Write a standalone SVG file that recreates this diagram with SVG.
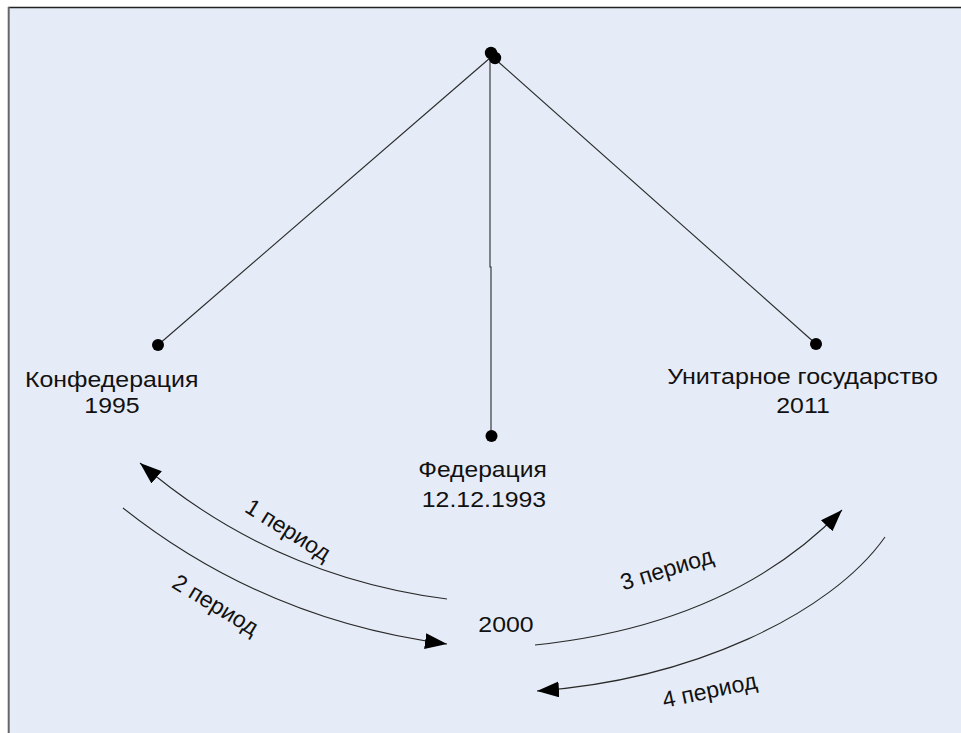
<svg xmlns="http://www.w3.org/2000/svg" width="961" height="733" viewBox="0 0 961 733">
<style>
.ln{fill:none;stroke:#2a2a2a;stroke-width:1.1}
.dot{fill:#000}
.t{font-family:"Liberation Sans",Arial,sans-serif;font-size:22px;fill:#111;text-anchor:middle}
.r{font-size:23px}
</style>
<defs>
<marker id="ah" markerUnits="userSpaceOnUse" markerWidth="24" markerHeight="18" refX="22" refY="8" orient="auto" viewBox="0 0 24 18">
<path d="M0,0 L22,8 L0,16 z" fill="#000"/>
</marker>
</defs>
<rect x="0" y="0" width="961" height="733" fill="#ffffff"/>
<rect x="8" y="7" width="953" height="726" fill="#e6ecf7"/>
<line x1="8" y1="7.5" x2="961" y2="7.5" stroke="#222" stroke-width="1.5"/>
<line x1="8.7" y1="7" x2="8.7" y2="733" stroke="#666" stroke-width="2"/>
<g id="connectors">
<line class="ln" x1="490" y1="58" x2="158" y2="345"/>
<line class="ln" x1="494" y1="58" x2="816" y2="344"/>
<polyline class="ln" points="490,58 490,267 491,267 491,436"/>
<path class="ln" d="M447,599 C340,585 235,545 140,463" marker-end="url(#ah)"/>
<path class="ln" d="M123,508 C195,565 300,625 447,644" marker-end="url(#ah)"/>
<path class="ln" d="M535,645 C630,635 750,605 842,510" marker-end="url(#ah)"/>
<path class="ln" d="M885,537 C830,615 690,680 537,691" marker-end="url(#ah)"/>
<text class="t r" transform="translate(284,536.4) rotate(32)">1 период</text>
<text class="t r" transform="translate(211.5,611.4) rotate(31)">2 период</text>
<text class="t r" transform="translate(669.1,576.5) rotate(-17)">3 период</text>
<text class="t r" transform="translate(711.2,698) rotate(-12)">4 период</text>
</g>
<g id="top">
<circle class="dot" cx="491" cy="53" r="6.2"/>
<circle class="dot" cx="495" cy="58" r="6.2"/>
</g>
<g id="konfederatsiya">
<circle class="dot" cx="158" cy="345" r="6"/>
<text class="t" transform="translate(111.7,387) scale(1.13,1)">Конфедерация</text>
<text class="t" transform="translate(112,413) scale(1.13,1)">1995</text>
</g>
<g id="federatsiya">
<circle class="dot" cx="491.5" cy="436" r="6"/>
<text class="t" transform="translate(482.5,477) scale(1.12,1)">Федерация</text>
<text class="t" transform="translate(484,507) scale(1.13,1)">12.12.1993</text>
</g>
<g id="unitarnoe">
<circle class="dot" cx="816" cy="344" r="6"/>
<text class="t" transform="translate(802.5,384) scale(1.14,1)">Унитарное государство</text>
<text class="t" transform="translate(803,413) scale(1.13,1)">2011</text>
</g>
<g id="center">
<text class="t" transform="translate(506,632) scale(1.13,1)">2000</text>
</g>
</svg>
